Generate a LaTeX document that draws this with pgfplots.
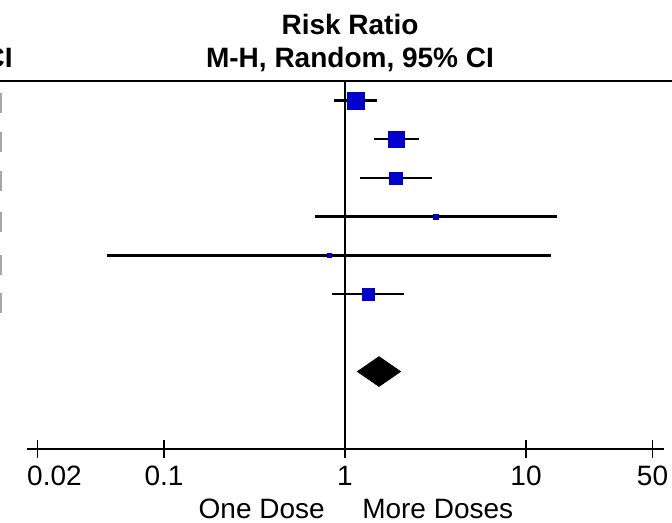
\documentclass[border=0pt]{standalone}
\usepackage{fontspec}
\setmainfont{Liberation Sans}
\usepackage{pgfplots}
\usepackage{pgfplotstable}
\pgfplotsset{compat=1.18}
\definecolor{sqblue}{RGB}{0,0,204}

% rows are negative so that study 1 sits at the top
\pgfplotstableread{
row   x      lo      hi     msize
-1    1.146  0.873   1.497  6.2
-2    1.92   1.446   2.56   6.0
-3    1.91   1.215   3.02   4.7
-4    3.18   0.683   14.9   1.9
-5    0.816  0.0484  13.8   1.5
-6    1.34   0.851   2.12   4.5
}\studies

\begin{document}
\begin{tikzpicture}[font=\fontsize{21}{25}\selectfont]
\path[use as bounding box] (0,0) rectangle (504pt,391.5pt);
\begin{scope}
  \clip (0,0) rectangle (504pt,391.5pt);
  \node[anchor=base east, inner sep=0pt, font=\fontsize{21}{25}\selectfont\bfseries] at (9.75pt,340.5pt) {95\% CI};
\end{scope}
\foreach \c in {314.25,285,255.75,225,192.75,164.25}
  \draw[gray!70, line width=1.1pt] (0.6pt,{(\c-7.5)*1pt}) -- ++(0,15pt);

\begin{axis}[
  at={(19.95pt,54.75pt)}, anchor=south west,
  scale only axis, width=478.05pt, height=276.75pt,
  xmode=log, xmin=0.01741, xmax=57.87,
  ymin=-10, ymax=-0.47,
  axis x line*=bottom, axis y line=none,
  axis line style={line width=1.6pt, -},
  xtick={0.1,1,10,50}, xticklabels={0.1,1,10,50},
  extra x ticks={0.02}, extra x tick labels={0.02},
  extra x tick style={xticklabel style={xshift=12.75pt}},
  xminorticks=false,
  major tick length=14pt, tick align=center,
  major tick style={line width=1.4pt, black},
  xticklabel style={font=\fontsize{21}{25}\selectfont, anchor=base, yshift=-20.25pt},
  clip=false]
\addplot[black, line width=1.4pt] coordinates {(1,-0.47) (1,-10)};
% confidence intervals
\addplot[draw=none, mark=none,
  error bars/.cd, x dir=both, x explicit, error mark=none,
  error bar style={black, line width=1.8pt}]
  table[x=x, y=row,
        x error plus expr=\thisrow{hi}-\thisrow{x},
        x error minus expr=\thisrow{x}-\thisrow{lo}] {\studies};
% study weights
\addplot[scatter, only marks, mark=square*,
  scatter/use mapped color={draw=sqblue, fill=sqblue},
  mark options={line width=0.2pt},
  visualization depends on={\thisrow{msize} \as \msize},
  scatter/@pre marker code/.append style={/tikz/mark size=\msize}]
  table[x=x, y=row] {\studies};
% pooled estimate
\addplot[fill=black, draw=black, line width=0.4pt]
  coordinates {(1.169,-8) (1.541,-7.613) (2.031,-8) (1.541,-8.387)} -- cycle;
\end{axis}

\draw[line width=1.6pt] (0,330.75pt) -- (504pt,330.75pt);
\node[anchor=base, inner sep=0pt, font=\fontsize{21}{25}\selectfont\bfseries] at (262.5pt,365.25pt) {Risk Ratio};
\node[anchor=base, inner sep=0pt, font=\fontsize{21}{25}\selectfont\bfseries] at (262.5pt,340.5pt) {M-H, Random, 95\% CI};
\node[anchor=base east, inner sep=0pt] at (243.75pt,3pt) {One Dose};
\node[anchor=base west, inner sep=0pt] at (271.5pt,3pt) {More Doses};
\end{tikzpicture}
\end{document}
